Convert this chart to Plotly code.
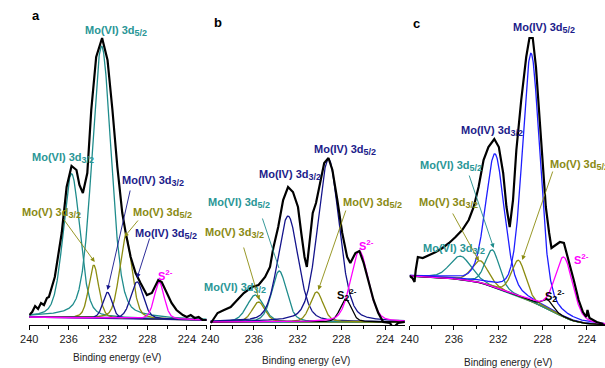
import numpy as np
import plotly.graph_objects as go

W, H = 605, 368
FONT = "Arial, Liberation Sans, sans-serif"

# ---------------- data ----------------
# Panel a: measured Mo 3d envelope (binding energy / eV, intensity / a.u.)
a_energy = [240.0, 239.7, 239.4, 239.1, 238.8, 238.5, 238.2, 238.0, 237.4, 236.7, 236.2, 235.7,
            235.2, 234.9, 234.55, 234.1, 233.7, 233.2, 232.6, 232.05, 231.55, 231.05, 230.55,
            230.2, 229.7, 229.2, 228.7, 228.05, 227.55, 226.9, 226.55, 226.05, 225.55, 225.05,
            224.4, 224.0, 223.6, 223.2, 222.8, 222.4, 222.0]
a_counts = [10, 13, 19, 16, 22, 20, 27, 28, 48, 92, 138, 159,
            155, 140, 132, 152, 215, 268, 287, 265, 215, 158, 112,
            92, 68, 52, 42, 30, 32, 45, 43, 32, 22, 15,
            10, 8, 10, 7, 8, 5, 5]
# fitted components: centre (eV), height above background, FWHM (eV)
a_species = ["MoVI_32", "MoVI_52", "MoV_32", "MoV_52", "MoIV_32", "MoIV_52", "S2m"]
a_center = [235.7, 232.65, 233.45, 230.2, 232.05, 229.05, 226.8]
a_height = [144, 272, 53, 82, 26, 37, 37]
a_fwhm = [2.0, 2.3, 1.2, 1.5, 1.1, 1.5, 1.2]
a_bg_energy = [240.0, 222.0]
a_bg_level = [8, 5]

# Panel b
b_energy = [239.94, 239.33, 238.74, 238.13, 237.53, 236.93, 236.18, 235.58, 234.98, 234.53,
            234.23, 233.78, 233.33, 232.88, 232.43, 231.97, 231.67, 231.37, 231.16, 230.92,
            230.62, 230.32, 230.02, 229.57, 229.18, 228.82, 228.37, 227.92, 227.47, 227.18,
            226.71, 226.35, 225.96, 225.51, 225.06, 224.62, 224.17, 223.55, 223.26, 222.81, 222.2]
b_counts = [2, 12, 15, 18, 25, 32, 38, 40, 48, 58,
            77, 98, 125, 138, 133, 118, 92, 68, 58, 85,
            112, 122, 138, 162, 167, 155, 125, 92, 68, 62,
            72, 74, 62, 42, 25, 12, 3, 2, -3, 2, 3]
b_species = ["MoVI_32", "MoV_32", "MoVI_52", "MoIV_32", "MoV_52", "MoIV_52", "S22m", "S2m"]
b_center = [235.88, 235.58, 233.69, 232.88, 230.26, 229.18, 227.61, 226.35]
b_height = [27, 20, 51, 106, 30, 163, 23, 71]
b_fwhm = [1.8, 1.4, 1.6, 2.2, 1.4, 2.3, 1.2, 1.9]
b_bg_energy = [240.0, 222.0]
b_bg_level = [3, 3]

# Panel c
c_energy = [240.0, 239.75, 239.56, 239.45, 239.26, 238.82, 238.22, 237.64, 237.04, 236.44,
            235.86, 235.26, 234.67, 234.22, 233.78, 233.33, 232.89, 232.36, 231.95, 231.56,
            231.26, 230.97, 230.67, 230.37, 229.93, 229.48, 229.19, 228.89, 228.6, 228.3,
            228.0, 227.71, 227.41, 227.2, 226.82, 226.44, 226.08, 225.64, 225.19, 224.75,
            224.36, 224.06, 223.95, 223.77, 223.12, 222.52]
c_counts = [49, 47, 43, 55, 68, 67, 70, 73, 77, 82,
            88, 95, 105, 118, 138, 165, 178, 186, 178, 152,
            118, 98, 125, 175, 225, 268, 287, 287, 258, 212,
            158, 118, 92, 77, 80, 83, 82, 65, 45, 25,
            13, 8, 15, 7, 3, 1]
c_species = ["MoVI_32", "MoV_32", "MoVI_52", "MoIV_32", "MoV_52", "MoIV_52", "S22m", "S2m"]
c_center = [235.41, 233.64, 232.53, 232.3, 230.17, 229.04, 227.56, 226.08]
c_height = [24, 22, 37, 134, 36, 248, 9, 60]
c_fwhm = [2.2, 1.8, 1.5, 2.0, 1.5, 1.85, 1.2, 1.9]
c_bg_energy = [240.0, 238.0, 236.5, 235.5, 234.5, 233.5, 232.5, 231.5, 230.5, 229.5,
               228.5, 227.5, 226.5, 225.5, 224.5, 223.5, 222.4]
c_bg_level = [49, 48, 47, 45, 44, 42, 38, 34, 30, 26, 21, 16, 10, 5, 2, 1, 0]

tick_values = [240, 236, 232, 228, 224]
axis_title = "Binding energy (eV)"

# ---------------- styles ----------------
TEAL = "#1f8c8c"
OLIVE = "#8c8c10"
NAVY = "#14148c"
BLUE = "#1e1eff"
MAG = "#ff00ff"
TEAL_T = "#2a9696"
OLIVE_T = "#8a8a14"
NAVY_T = "#1c1c8a"

def species_color(sp, panel):
    if sp.startswith("MoVI"):
        return TEAL
    if sp.startswith("MoV_"):
        return OLIVE
    if sp.startswith("MoIV"):
        return BLUE if panel == "c" else NAVY
    if sp == "S2m":
        return MAG
    return "black"

def pv(E, c, h, w, eta=0.3):
    x = (E - c) / (w / 2.0)
    return h * ((1 - eta) * np.exp(-np.log(2) * x ** 2) + eta / (1 + x ** 2))

grid = np.linspace(240, 222, 901)

panels = [
    ("a", a_energy, a_counts, a_species, a_center, a_height, a_fwhm, a_bg_energy, a_bg_level, NAVY),
    ("b", b_energy, b_counts, b_species, b_center, b_height, b_fwhm, b_bg_energy, b_bg_level, TEAL),
    ("c", c_energy, c_counts, c_species, c_center, c_height, c_fwhm, c_bg_energy, c_bg_level, TEAL),
]

# axis pixel geometry: (left px, right px, right-end energy)
xgeom = {"a": (20.5, 201.0, 221.95), "b": (204.3, 401.7, 222.2), "c": (406.7, 605.0, 222.37)}
PLOT_BOTTOM = 325.0

fig = go.Figure()
layout = dict(width=W, height=H, margin=dict(l=0, r=0, t=0, b=0), autosize=False,
              paper_bgcolor="white", plot_bgcolor="white", showlegend=False)

for i, (p, en, ct, sps, cen, hei, fw, bge, bgl, bgcol) in enumerate(panels):
    suf = "" if i == 0 else str(i + 1)
    xa, ya = "x" + suf, "y" + suf
    bg = np.interp(grid[::-1], bge[::-1], bgl[::-1])[::-1]
    fig.add_trace(go.Scatter(x=grid, y=bg, mode="lines", line=dict(color=bgcol, width=1.3),
                             xaxis=xa, yaxis=ya, hoverinfo="skip"))
    for sp, c0, h0, w0 in zip(sps, cen, hei, fw):
        fig.add_trace(go.Scatter(x=grid, y=bg + pv(grid, c0, h0, w0), mode="lines",
                                 line=dict(color=species_color(sp, p), width=1.3),
                                 xaxis=xa, yaxis=ya, hoverinfo="skip"))
    fig.add_trace(go.Scatter(x=en, y=ct, mode="lines", line=dict(color="black", width=2.2),
                             xaxis=xa, yaxis=ya, hoverinfo="skip"))
    l, r, e_end = xgeom[p]
    layout["xaxis" + suf] = dict(
        domain=[l / W, r / W], range=[240, e_end], anchor=ya,
        showline=True, linecolor="black", linewidth=1, mirror=False,
        ticks="outside", ticklen=4, tickcolor="black", tickwidth=1,
        tickvals=tick_values, showgrid=False, zeroline=False,
        tickfont=dict(family=FONT, size=11, color="#222"),
        minor=dict(dtick=2, tick0=222, ticks="outside", ticklen=2.5, tickcolor="black", showgrid=False),
        fixedrange=True)
    layout["yaxis" + suf] = dict(
        domain=[1 - PLOT_BOTTOM / H, 1], range=[0, PLOT_BOTTOM], anchor=xa,
        visible=False, fixedrange=True)

ann = []

def txt(x, y, s, color, size=11, bold=True):
    t = f"<b>{s}</b>" if bold else s
    ann.append(dict(xref="paper", yref="paper", x=x / W, y=1 - y / H, text=t, showarrow=False,
                    xanchor="left", yanchor="middle", font=dict(color=color, size=size, family=FONT)))

def arr(tx, ty, hx, hy, color, head=True):
    ann.append(dict(xref="paper", yref="paper", x=hx / W, y=1 - hy / H, ax=tx - hx, ay=ty - hy,
                    axref="pixel", ayref="pixel", text="", showarrow=True,
                    arrowhead=2 if head else 0, arrowsize=1.0, arrowwidth=0.9,
                    arrowcolor=color, standoff=0, startstandoff=0))

def sub(s):
    return f'<sub><span style="font-size:9px">{s}</span></sub>'

def sup(s):
    return f'<sup><span style="font-size:8px">{s}</span></sup>'

MO6_52 = "Mo(VI) 3d" + sub("5/2")
MO6_32 = "Mo(VI) 3d" + sub("3/2")
MO5_52 = "Mo(V) 3d" + sub("5/2")
MO5_32 = "Mo(V) 3d" + sub("3/2")
MO4_52 = "Mo(IV) 3d" + sub("5/2")
MO4_32 = "Mo(IV) 3d" + sub("3/2")
S2M = "S" + sup("2-")
S22M = "S" + sub("2") + sup("2-")

# panel a
txt(75, 31, MO6_52, TEAL_T)
txt(21, 158, MO6_32, TEAL_T)
txt(11, 213, MO5_32, OLIVE_T)
txt(113, 181, MO4_32, NAVY_T)
txt(124, 213, MO5_52, OLIVE_T)
txt(126, 234, MO4_52, NAVY_T)
txt(149, 275, S2M, MAG)
arr(55, 218, 87, 262, OLIVE)
arr(123, 189, 100, 290, NAVY)
arr(132, 219, 117, 237, OLIVE)
arr(143, 237, 130, 278, NAVY)

# panel b
txt(308, 150, MO4_52, NAVY_T)
txt(252, 175, MO4_32, NAVY_T)
txt(200, 203, MO6_52, TEAL_T)
txt(197, 233, MO5_32, OLIVE_T)
txt(196, 288, MO6_32, TEAL_T)
txt(337, 203, MO5_52, OLIVE_T)
txt(353, 245, S2M, MAG)
txt(331, 295, S22M, "black")
arr(257, 217, 274, 268, TEAL, head=False)
arr(238, 246, 254, 300, OLIVE)
arr(342, 209, 314, 290, OLIVE)

# panel c
txt(510, 28, MO4_52, NAVY_T)
txt(457, 131, MO4_32, NAVY_T)
txt(415, 166, MO6_52, TEAL_T)
txt(414, 203, MO5_32, OLIVE_T)
txt(418, 249, MO6_32, TEAL_T)
txt(547, 165, MO5_52, OLIVE_T)
txt(572, 259, S2M, MAG)
txt(542, 296, S22M, "black")
arr(467, 174, 492, 248, TEAL)
arr(450, 212, 477, 261, OLIVE)
arr(552, 170, 521, 260, OLIVE)

# panel letters
txt(21, 16, "a", "black", size=13)
txt(206, 22, "b", "black", size=13)
txt(408, 24, "c", "black", size=13)

# axis titles
for cx, cy in [(110, 357), (301, 360), (507, 362)]:
    ann.append(dict(xref="paper", yref="paper", x=cx / W, y=1 - cy / H, text=axis_title,
                    showarrow=False, xanchor="center", yanchor="middle",
                    font=dict(family=FONT, size=10, color="#222")))

layout["annotations"] = ann
fig.update_layout(**layout)
fig.write_html("out.html", config={"displayModeBar": False})
